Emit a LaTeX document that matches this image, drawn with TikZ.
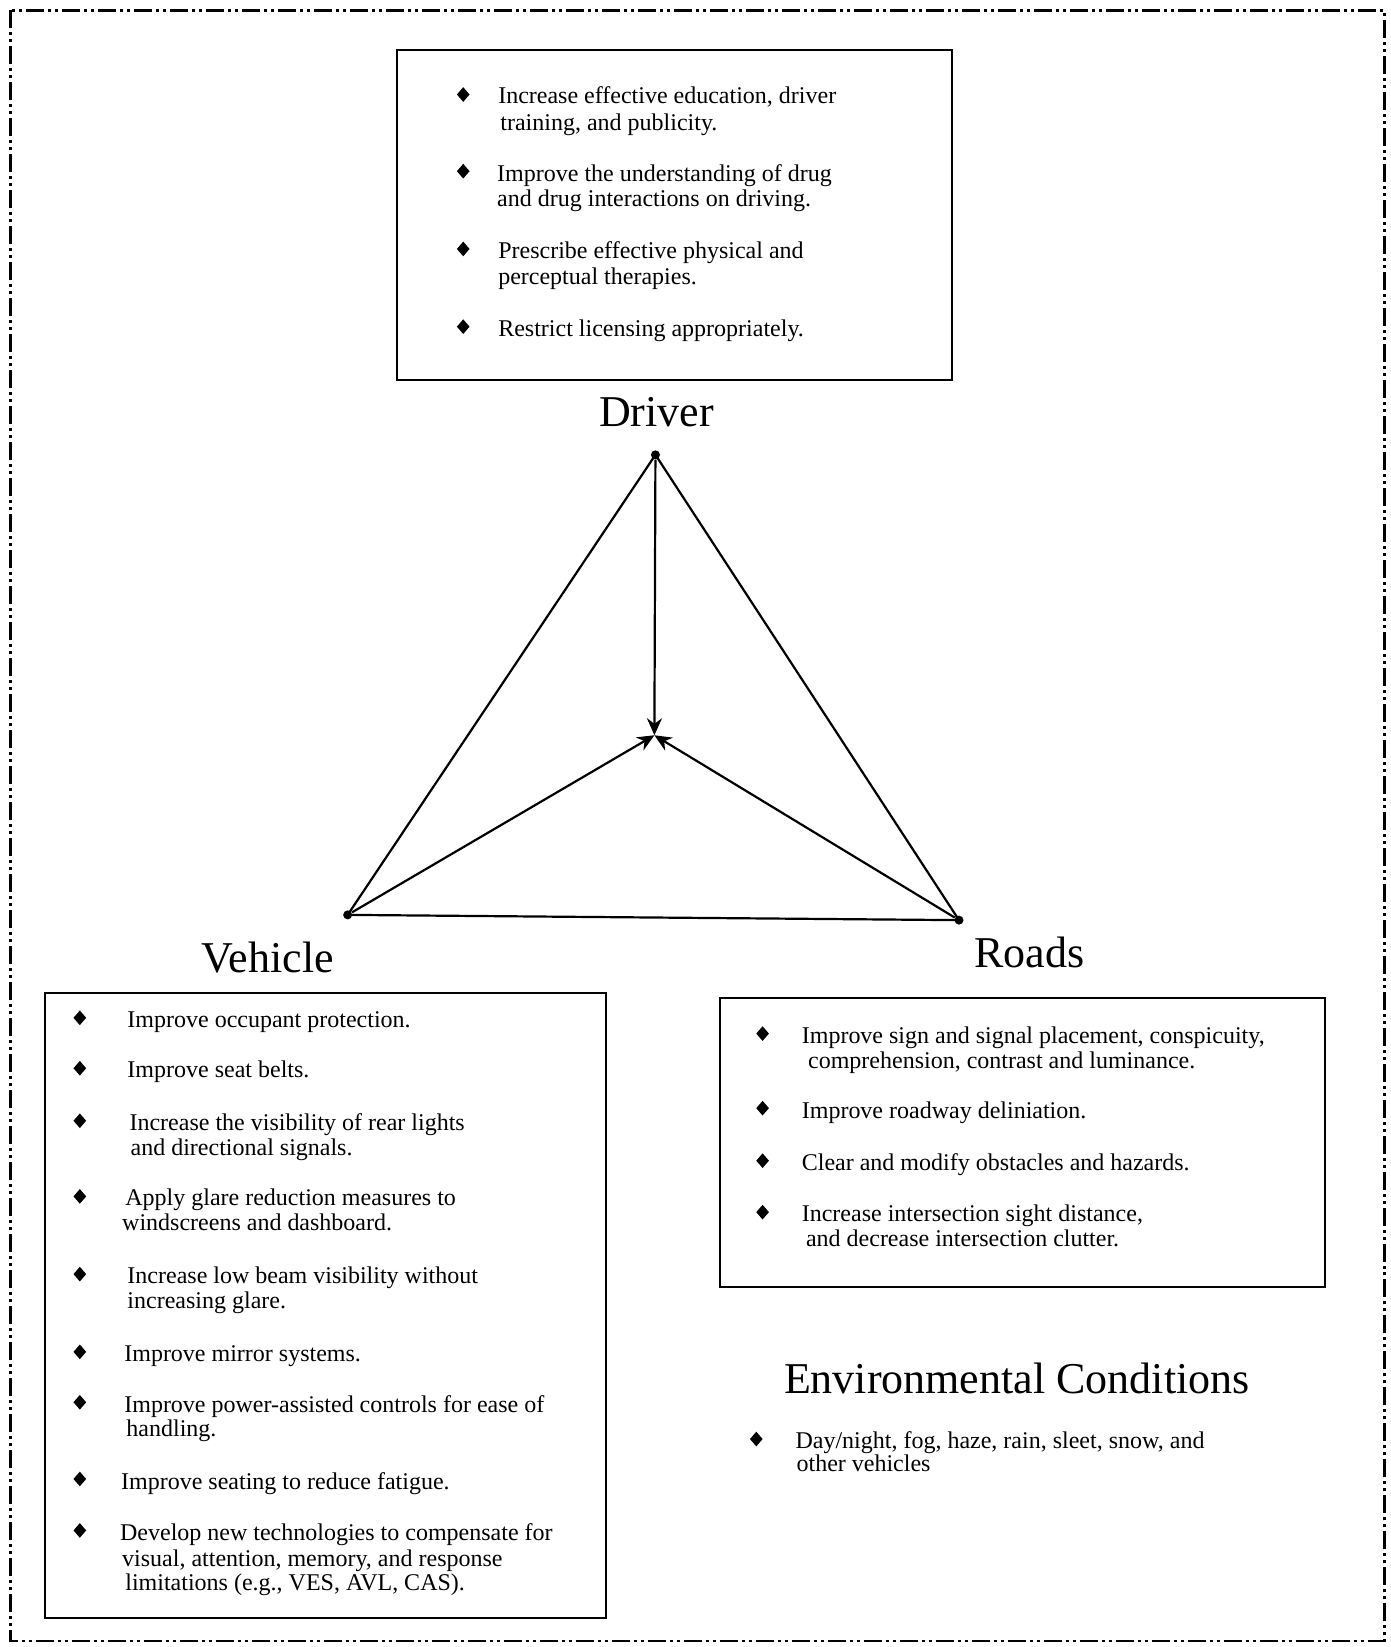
\documentclass[tikz,border=0pt]{standalone}
\usepackage{fontspec}
\setmainfont{Liberation Serif}
\usetikzlibrary{arrows.meta,shapes.geometric}

\begin{document}
\begin{tikzpicture}[x=0.5253pt,y=-0.5253pt,
  box/.style={draw, line width=1pt},
  txt/.style={anchor=base west, inner sep=0pt, yshift=-1pt, font=\fontsize{12}{14}\selectfont},
  bul/.style={diamond, fill=black, inner sep=0pt, minimum width=6.5pt, minimum height=7.5pt},
  head/.style={inner sep=0pt, font=\fontsize{22}{26}\selectfont},
  vtx/.style={circle, fill=black, inner sep=0pt, minimum size=4.5pt},
  side/.style={line width=1.1pt},
  arr/.style={line width=1.1pt, -{Stealth[length=8.5pt,width=7.5pt]}}
]
\useasboundingbox (0,0) rectangle (1324,1568);

% outer dash-dot frame
\draw[line width=1.1pt, dash pattern=on 9pt off 2pt on 1.5pt off 2pt on 1.5pt off 2pt]
  (10,10) rectangle (1318,1562);

% ---------- Driver ----------
\draw[box] (378,48) rectangle (906,362);
\node[bul] (db1) at (441,90) {};
\node[txt] (dt1a) at (474,97) {Increase effective education, driver};
\node[txt] (dt1b) at (476,122) {training, and publicity.};
\node[bul] (db2) at (441,163) {};
\node[txt] (dt2a) at (473,171) {Improve the understanding of drug};
\node[txt] (dt2b) at (473,195) {and drug interactions on driving.};
\node[bul] (db3) at (441,237) {};
\node[txt] (dt3a) at (474,244) {Prescribe effective physical and};
\node[txt] (dt3b) at (474,269) {perceptual therapies.};
\node[bul] (db4) at (441,311) {};
\node[txt] (dt4a) at (474,318) {Restrict licensing appropriately.};

\node[head] (hdriver) at (625,392) {Driver};

% ---------- triangle ----------
\node[vtx] (D) at (624,433) {};
\node[vtx] (V) at (331,871) {};
\node[vtx] (R) at (913,876) {};
\coordinate (C) at (623,700);
\draw[side] (D.center) -- (V.center) -- (R.center) -- cycle;
\draw[arr] (D) -- (C);
\draw[arr] (V) -- (C);
\draw[arr] (R) -- (C);

\node[head] (hvehicle) at (255,912) {Vehicle};
\node[head] (hroads) at (980,907) {Roads};

% ---------- Vehicle ----------
\draw[box] (43,945) rectangle (577,1540);
\node[bul] (vb1) at (76,969) {};
\node[txt] (vt1a) at (121,976) {Improve occupant protection.};
\node[bul] (vb2) at (76,1017) {};
\node[txt] (vt2a) at (121,1024) {Improve seat belts.};
\node[bul] (vb3) at (76,1067) {};
\node[txt] (vt3a) at (123,1074) {Increase the visibility of rear lights};
\node[txt] (vt3b) at (124,1098) {and directional signals.};
\node[bul] (vb4) at (76,1139) {};
\node[txt] (vt4a) at (119,1146) {Apply glare reduction measures to};
\node[txt] (vt4b) at (116,1170) {windscreens and dashboard.};
\node[bul] (vb5) at (76,1213) {};
\node[txt] (vt5a) at (121,1220) {Increase low beam visibility without};
\node[txt] (vt5b) at (121,1244) {increasing glare.};
\node[bul] (vb6) at (76,1287) {};
\node[txt] (vt6a) at (118,1294) {Improve mirror systems.};
\node[bul] (vb7) at (76,1335) {};
\node[txt] (vt7a) at (118,1343) {Improve power-assisted controls for ease of};
\node[txt] (vt7b) at (120,1366) {handling.};
\node[bul] (vb8) at (76,1408) {};
\node[txt] (vt8a) at (115,1416) {Improve seating to reduce fatigue.};
\node[bul] (vb9) at (76,1457) {};
\node[txt] (vt9a) at (114,1465) {Develop new technologies to compensate for};
\node[txt] (vt9b) at (116,1489) {visual, attention, memory, and response};
\node[txt] (vt9c) at (119,1512) {limitations (e.g., VES, AVL, CAS).};

% ---------- Roads ----------
\draw[box] (685,950) rectangle (1261,1225);
\node[bul] (rb1) at (726,984) {};
\node[txt] (rt1a) at (763,992) {Improve sign and signal placement, conspicuity,};
\node[txt] (rt1b) at (769,1015) {comprehension, contrast and luminance.};
\node[bul] (rb2) at (726,1055) {};
\node[txt] (rt2a) at (763,1063) {Improve roadway deliniation.};
\node[bul] (rb3) at (726,1105) {};
\node[txt] (rt3a) at (763,1112) {Clear and modify obstacles and hazards.};
\node[bul] (rb4) at (726,1154) {};
\node[txt] (rt4a) at (763,1161) {Increase intersection sight distance,};
\node[txt] (rt4b) at (767,1185) {and decrease intersection clutter.};

% ---------- Environmental conditions ----------
\node[head] (henv) at (968,1312) {Environmental Conditions};
\node[bul] (eb1) at (720,1370) {};
\node[txt] (et1a) at (757,1377) {Day/night, fog, haze, rain, sleet, snow, and};
\node[txt] (et1b) at (758,1399) {other vehicles};
\end{tikzpicture}
\end{document}
